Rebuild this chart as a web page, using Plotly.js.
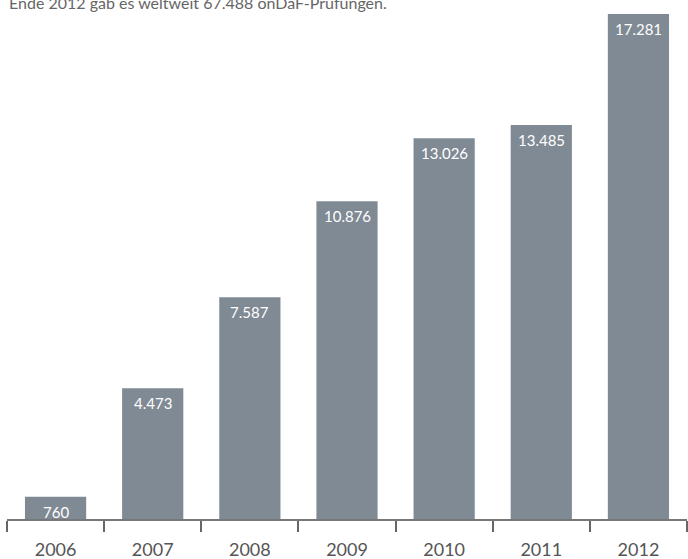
<!DOCTYPE html>
<html><head><meta charset="utf-8">
<script src="https://cdn.plot.ly/plotly-3.0.1.min.js"></script>
<style>html,body{margin:0;padding:0;background:#fff}#c{width:688px;height:559px}</style>
</head><body><div id="c"></div>
<script>
const years = ['2006','2007','2008','2009','2010','2011','2012'];
const counts = [760, 4473, 7587, 10876, 13026, 13485, 17281];
const titleText = 'Ende 2012 gab es weltweit 67.488 onDaF-Prüfungen.';

function fmt(v){ return String(v).replace(/\B(?=(\d{3})+(?!\d))/g, '.'); }

const barColor = '#7f8a94';
const data = [{
  type: 'bar', x: years, y: counts,
  marker: {color: barColor, line: {width: 0}},
  text: counts.map(fmt), textposition: 'none',
  hoverinfo: 'x+y'
}];

const annotations = years.map((yr, i) => ({
  x: i, y: counts[i], xref: 'x', yref: 'y',
  text: fmt(counts[i]), showarrow: false,
  yanchor: 'top', xanchor: 'center', yshift: -4,
  font: {family: 'Lato, sans-serif', size: 15, color: '#ffffff'}
}));
annotations.push({
  x: 0, xref: 'paper', xanchor: 'left', y: 1.022, yref: 'paper', yanchor: 'middle',
  text: titleText, showarrow: false,
  font: {family: 'Lato, sans-serif', size: 16, color: '#666666'}
});

const layout = {
  width: 688, height: 559,
  margin: {l: 7, r: 1, t: 14, b: 40, pad: 0},
  paper_bgcolor: '#ffffff', plot_bgcolor: '#ffffff',
  showlegend: false, bargap: 0.37,
  xaxis: {
    type: 'category', range: [-0.5, 6.5], tickson: 'boundaries', ticks: 'outside', ticklen: 11,
    tickwidth: 2, tickcolor: '#666666', showline: true, linecolor: '#777777', linewidth: 2,
    showgrid: false, zeroline: false, ticklabelstandoff: 13, tickangle: 0,
    tickfont: {family: 'Lato, sans-serif', size: 18, color: '#555555'}
  },
  yaxis: {visible: false, range: [0, 17281], showgrid: false, zeroline: false, fixedrange: true},
  annotations: annotations
};
Plotly.newPlot('c', data, layout, {displayModeBar: false, staticPlot: true});
</script></body></html>
